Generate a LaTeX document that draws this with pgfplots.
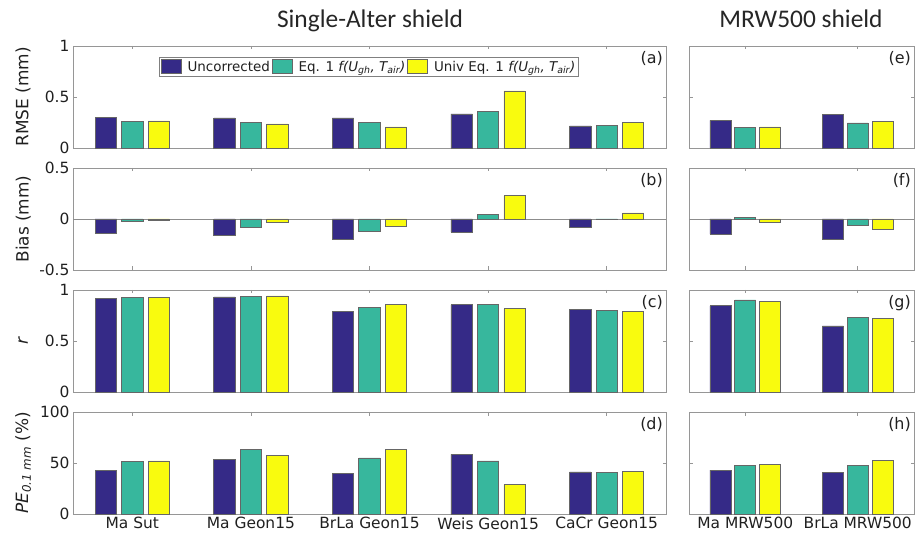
\documentclass[border=0pt]{standalone}
\usepackage{pgfplots}
\pgfplotsset{compat=1.18}
\usepackage{fontspec}
\setmainfont{DejaVu Sans}
\newfontfamily\titlefont{Carlito}
\definecolor{cU}{RGB}{53,42,135}
\definecolor{cE}{RGB}{55,183,157}
\definecolor{cV}{RGB}{249,251,14}
\definecolor{axgray}{RGB}{150,150,150}
\definecolor{txt}{RGB}{32,32,32}
\tikzset{plab/.style={anchor=north east, font=\fontsize{16}{18}\selectfont, text=txt, inner sep=2bp, yshift=-3.5bp, xshift=-1bp}}
\pgfplotsset{
  basepan/.style={scale only axis, height=102bp, anchor=south west,
    axis line style={axgray, line width=0.8bp},
    tick style={axgray, line width=0.8bp}, major tick length=3.5bp, tick align=inside,
    ticklabel style={font=\fontsize{15.5}{17}\selectfont, text=txt},
    /pgf/number format/assume math mode=true,
    every axis y label/.style={at={(axis description cs:-0.084,0.5)}, rotate=90, anchor=center,
      font=\fontsize{17}{19}\selectfont, text=txt},
    clip=false},
  Lpan/.style={basepan, width=593bp, xmin=0.5, xmax=5.5, xtick={1,2,3,4,5}, xticklabels={}},
  Rpan/.style={basepan, width=225bp, xmin=0.5, xmax=2.5, xtick={1,2}, xticklabels={}, yticklabels={}},
  bU/.style={ybar, bar shift=0pt, bar width=#1, fill=cU, draw=black!60, line width=0.7bp},
  bE/.style={ybar, bar shift=0pt, bar width=#1, fill=cE, draw=black!60, line width=0.7bp},
  bV/.style={ybar, bar shift=0pt, bar width=#1, fill=cV, draw=black!60, line width=0.7bp},
}
\begin{document}
\begin{tikzpicture}
\useasboundingbox (0,0) rectangle (915bp,538bp);
\node[anchor=base, font=\titlefont\fontsize{25.5}{28}\selectfont, text=black!85] at (370bp,510bp) {Single-Alter shield};
\node[anchor=base, font=\titlefont\fontsize{25.5}{28}\selectfont, text=black!85] at (801bp,510bp) {MRW500 shield};

% (a) RMSE
\begin{axis}[Lpan, at={(73bp,390bp)}, ymin=0, ymax=1, ytick={0,0.5,1}, yticklabels={0,0.5,1},
  ylabel={RMSE (mm)},
  legend style={at={(axis description cs:0.145,0.892)}, anchor=north west, draw=black!50, line width=0.8bp,
    fill=white, legend columns=3, font=\fontsize{13.5}{15}\selectfont, text=txt, inner sep=1.5bp,
    /tikz/every odd column/.append style={column sep=4bp}},
  legend image code/.code={\draw[#1] (0bp,-7bp) rectangle (20bp,7bp);}]
\addplot[bU=0.18] coordinates {(0.777,0.300) (1.777,0.295) (2.777,0.295) (3.777,0.334) (4.777,0.216)};
\addplot[bE=0.18] coordinates {(1,0.260) (2,0.250) (3,0.250) (4,0.360) (5,0.220)};
\addplot[bV=0.18] coordinates {(1.223,0.265) (2.223,0.236) (3.223,0.207) (4.223,0.560) (5.223,0.252)};
\legend{Uncorrected, Eq. 1 \textit{f(U\textsubscript{gh}, T\textsubscript{air})}, Univ Eq. 1 \textit{f(U\textsubscript{gh}, T\textsubscript{air})}}
\node[plab] at (rel axis cs:1,1) {(a)};
\end{axis}

% (b) Bias
\begin{axis}[Lpan, at={(73bp,268bp)}, ymin=-0.5, ymax=0.5, ytick={-0.5,0,0.5}, yticklabels={-0.5,0,0.5},
  ylabel={Bias (mm)}]
\addplot[black!45, line width=0.8bp, forget plot] coordinates {(0.5,0) (5.5,0)};
\addplot[bU=0.18] coordinates {(0.777,-0.136) (1.777,-0.162) (2.777,-0.195) (3.777,-0.129) (4.777,-0.080)};
\addplot[bE=0.18] coordinates {(1,-0.023) (2,-0.086) (3,-0.119) (4,0.043) (5,-0.006)};
\addplot[bV=0.18] coordinates {(1.223,-0.013) (2.223,-0.036) (3.223,-0.073) (4.223,0.228) (5.223,0.060)};
\node[plab] at (rel axis cs:1,1) {(b)};
\end{axis}

% (c) r
\begin{axis}[Lpan, at={(73bp,146bp)}, ymin=0, ymax=1, ytick={0,0.5,1}, yticklabels={0,0.5,1},
  ylabel={\textit{r}}]
\addplot[bU=0.18] coordinates {(0.777,0.916) (1.777,0.932) (2.777,0.790) (3.777,0.855) (4.777,0.810)};
\addplot[bE=0.18] coordinates {(1,0.929) (2,0.935) (3,0.826) (4,0.855) (5,0.803)};
\addplot[bV=0.18] coordinates {(1.223,0.929) (2.223,0.942) (3.223,0.858) (4.223,0.816) (5.223,0.790)};
\node[plab] at (rel axis cs:1,1) {(c)};
\end{axis}

% (d) PE
\begin{axis}[Lpan, at={(73bp,24bp)}, ymin=0, ymax=100, ytick={0,50,100}, yticklabels={0,50,100},
  xticklabels={Ma Sut, Ma Geon15, BrLa Geon15, Weis Geon15, CaCr Geon15},
  ylabel={\textit{PE}\textsubscript{\textit{0.1 mm}} (\%)}]
\addplot[bU=0.18] coordinates {(0.777,42.6) (1.777,53.4) (2.777,40.0) (3.777,58.4) (4.777,41.3)};
\addplot[bE=0.18] coordinates {(1,51.5) (2,63.0) (3,55.0) (4,52.0) (5,40.7)};
\addplot[bV=0.18] coordinates {(1.223,52.0) (2.223,57.4) (3.223,63.0) (4.223,29.0) (5.223,42.0)};
\node[plab] at (rel axis cs:1,1) {(d)};
\end{axis}

% (e)
\begin{axis}[Rpan, at={(689bp,390bp)}, ymin=0, ymax=1, ytick={0,0.5,1}]
\addplot[bU=0.186] coordinates {(0.779,0.272) (1.779,0.325)};
\addplot[bE=0.186] coordinates {(1,0.200) (2,0.246)};
\addplot[bV=0.186] coordinates {(1.221,0.206) (2.221,0.259)};
\node[plab] at (rel axis cs:1,1) {(e)};
\end{axis}

% (f)
\begin{axis}[Rpan, at={(689bp,268bp)}, ymin=-0.5, ymax=0.5, ytick={-0.5,0,0.5}]
\addplot[black!45, line width=0.8bp, forget plot] coordinates {(0.5,0) (2.5,0)};
\addplot[bU=0.186] coordinates {(0.779,-0.148) (1.779,-0.200)};
\addplot[bE=0.186] coordinates {(1,0.013) (2,-0.066)};
\addplot[bV=0.186] coordinates {(1.221,-0.030) (2.221,-0.102)};
\node[plab] at (rel axis cs:1,1) {(f)};
\end{axis}

% (g)
\begin{axis}[Rpan, at={(689bp,146bp)}, ymin=0, ymax=1, ytick={0,0.5,1}]
\addplot[bU=0.186] coordinates {(0.779,0.845) (1.779,0.648)};
\addplot[bE=0.186] coordinates {(1,0.903) (2,0.729)};
\addplot[bV=0.186] coordinates {(1.221,0.890) (2.221,0.723)};
\node[plab] at (rel axis cs:1,1) {(g)};
\end{axis}

% (h)
\begin{axis}[Rpan, at={(689bp,24bp)}, ymin=0, ymax=100, ytick={0,50,100},
  xticklabels={Ma MRW500, BrLa MRW500}]
\addplot[bU=0.186] coordinates {(0.779,43.0) (1.779,40.8)};
\addplot[bE=0.186] coordinates {(1,47.4) (2,47.4)};
\addplot[bV=0.186] coordinates {(1.221,48.4) (2.221,52.3)};
\node[plab] at (rel axis cs:1,1) {(h)};
\end{axis}
\end{tikzpicture}
\end{document}
